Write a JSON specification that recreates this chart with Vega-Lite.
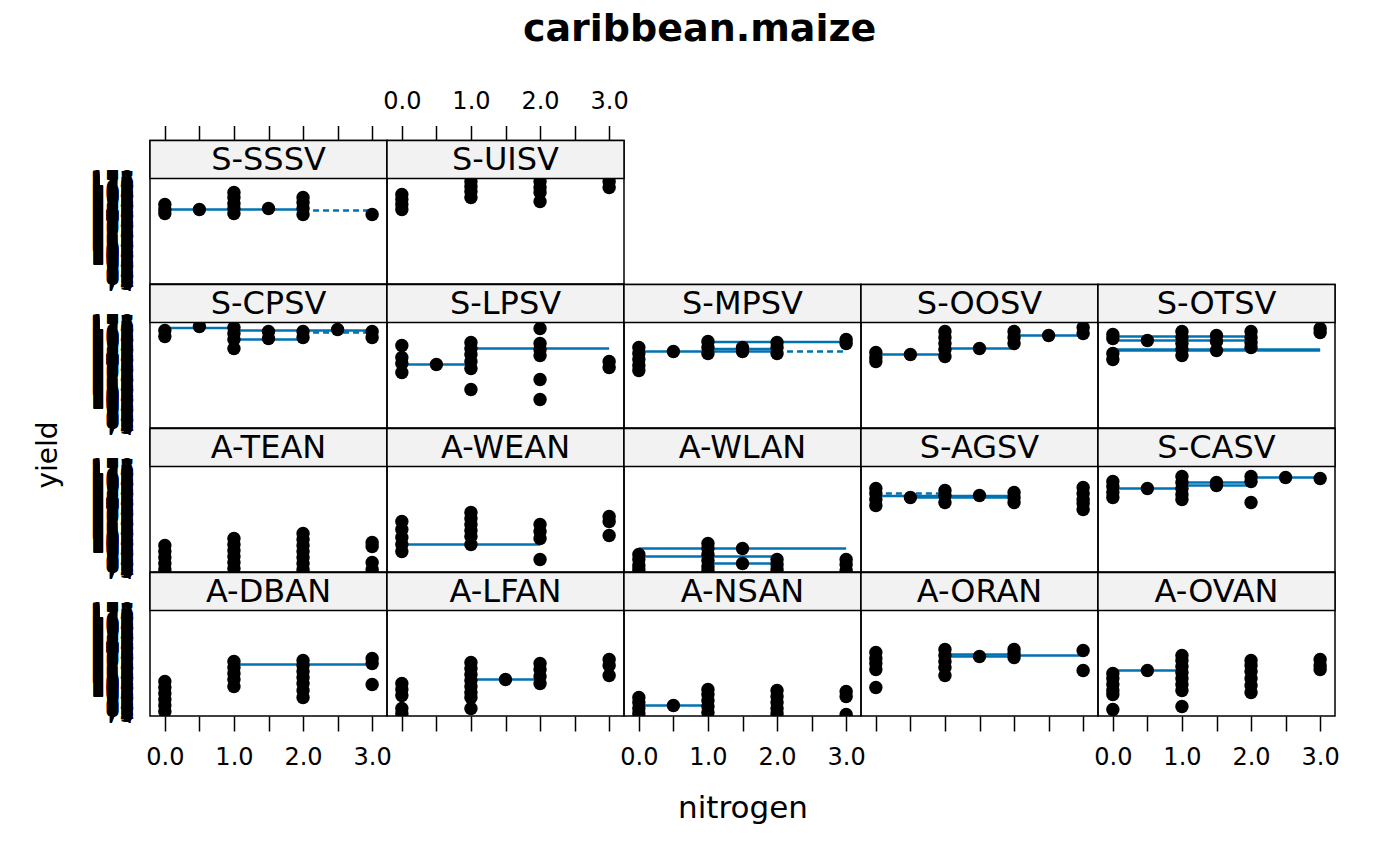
{
"$schema":"https://vega.github.io/schema/vega-lite/v6.json",
"padding":{"left":33,"top":10.5,"right":5,"bottom":5},
"title":{"text":"caribbean.maize","fontSize":38,"fontWeight":"bold","font":"DejaVu Sans","color":"black","anchor":"middle","frame":"bounds","dx":13,"offset":40},
"datasets":{
"strips":[{"site":"S-SSSV"},{"site":"S-UISV"},{"site":"S-CPSV"},{"site":"S-LPSV"},{"site":"S-MPSV"},{"site":"S-OOSV"},{"site":"S-OTSV"},{"site":"A-TEAN"},{"site":"A-WEAN"},{"site":"A-WLAN"},{"site":"S-AGSV"},{"site":"S-CASV"},{"site":"A-DBAN"},{"site":"A-LFAN"},{"site":"A-NSAN"},{"site":"A-ORAN"},{"site":"A-OVAN"}],
"pts":[
{"site":"S-SSSV","nitrogen":0,"yield":153},{"site":"S-SSSV","nitrogen":0,"yield":148},{"site":"S-SSSV","nitrogen":0,"yield":144},{"site":"S-SSSV","nitrogen":0.5,"yield":148},{"site":"S-SSSV","nitrogen":1,"yield":165},{"site":"S-SSSV","nitrogen":1,"yield":160},{"site":"S-SSSV","nitrogen":1,"yield":154},{"site":"S-SSSV","nitrogen":1,"yield":149},{"site":"S-SSSV","nitrogen":1,"yield":144},{"site":"S-SSSV","nitrogen":1.5,"yield":149},{"site":"S-SSSV","nitrogen":2,"yield":160},{"site":"S-SSSV","nitrogen":2,"yield":155},{"site":"S-SSSV","nitrogen":2,"yield":149},{"site":"S-SSSV","nitrogen":2,"yield":143},{"site":"S-SSSV","nitrogen":3,"yield":143},
{"site":"S-UISV","nitrogen":0,"yield":163},{"site":"S-UISV","nitrogen":0,"yield":158},{"site":"S-UISV","nitrogen":0,"yield":153},{"site":"S-UISV","nitrogen":0,"yield":148},{"site":"S-UISV","nitrogen":1,"yield":176},{"site":"S-UISV","nitrogen":1,"yield":171},{"site":"S-UISV","nitrogen":1,"yield":166},{"site":"S-UISV","nitrogen":1,"yield":160},{"site":"S-UISV","nitrogen":2,"yield":176},{"site":"S-UISV","nitrogen":2,"yield":170},{"site":"S-UISV","nitrogen":2,"yield":165},{"site":"S-UISV","nitrogen":2,"yield":156},{"site":"S-UISV","nitrogen":3,"yield":176},{"site":"S-UISV","nitrogen":3,"yield":170},
{"site":"S-CPSV","nitrogen":0,"yield":171},{"site":"S-CPSV","nitrogen":0,"yield":165},{"site":"S-CPSV","nitrogen":0.5,"yield":175},{"site":"S-CPSV","nitrogen":1,"yield":174},{"site":"S-CPSV","nitrogen":1,"yield":168},{"site":"S-CPSV","nitrogen":1,"yield":162},{"site":"S-CPSV","nitrogen":1,"yield":153},{"site":"S-CPSV","nitrogen":1.5,"yield":170},{"site":"S-CPSV","nitrogen":1.5,"yield":163},{"site":"S-CPSV","nitrogen":2,"yield":170},{"site":"S-CPSV","nitrogen":2,"yield":164},{"site":"S-CPSV","nitrogen":2.5,"yield":172},{"site":"S-CPSV","nitrogen":3,"yield":170},{"site":"S-CPSV","nitrogen":3,"yield":164},
{"site":"S-LPSV","nitrogen":0,"yield":156},{"site":"S-LPSV","nitrogen":0,"yield":144},{"site":"S-LPSV","nitrogen":0,"yield":138},{"site":"S-LPSV","nitrogen":0,"yield":129},{"site":"S-LPSV","nitrogen":0.5,"yield":137},{"site":"S-LPSV","nitrogen":1,"yield":159},{"site":"S-LPSV","nitrogen":1,"yield":153},{"site":"S-LPSV","nitrogen":1,"yield":147},{"site":"S-LPSV","nitrogen":1,"yield":140},{"site":"S-LPSV","nitrogen":1,"yield":133},{"site":"S-LPSV","nitrogen":1,"yield":112},{"site":"S-LPSV","nitrogen":2,"yield":173},{"site":"S-LPSV","nitrogen":2,"yield":158},{"site":"S-LPSV","nitrogen":2,"yield":152},{"site":"S-LPSV","nitrogen":2,"yield":146},{"site":"S-LPSV","nitrogen":2,"yield":122},{"site":"S-LPSV","nitrogen":2,"yield":102},{"site":"S-LPSV","nitrogen":3,"yield":140},{"site":"S-LPSV","nitrogen":3,"yield":134},
{"site":"S-MPSV","nitrogen":0,"yield":154},{"site":"S-MPSV","nitrogen":0,"yield":148},{"site":"S-MPSV","nitrogen":0,"yield":142},{"site":"S-MPSV","nitrogen":0,"yield":136},{"site":"S-MPSV","nitrogen":0,"yield":131},{"site":"S-MPSV","nitrogen":0.5,"yield":150},{"site":"S-MPSV","nitrogen":1,"yield":160},{"site":"S-MPSV","nitrogen":1,"yield":154},{"site":"S-MPSV","nitrogen":1,"yield":148},{"site":"S-MPSV","nitrogen":1.5,"yield":154},{"site":"S-MPSV","nitrogen":1.5,"yield":150},{"site":"S-MPSV","nitrogen":2,"yield":159},{"site":"S-MPSV","nitrogen":2,"yield":154},{"site":"S-MPSV","nitrogen":2,"yield":148},{"site":"S-MPSV","nitrogen":3,"yield":162},{"site":"S-MPSV","nitrogen":3,"yield":158},
{"site":"S-OOSV","nitrogen":0,"yield":149},{"site":"S-OOSV","nitrogen":0,"yield":144},{"site":"S-OOSV","nitrogen":0,"yield":140},{"site":"S-OOSV","nitrogen":0.5,"yield":147},{"site":"S-OOSV","nitrogen":1,"yield":170},{"site":"S-OOSV","nitrogen":1,"yield":164},{"site":"S-OOSV","nitrogen":1,"yield":158},{"site":"S-OOSV","nitrogen":1,"yield":152},{"site":"S-OOSV","nitrogen":1,"yield":145},{"site":"S-OOSV","nitrogen":1.5,"yield":153},{"site":"S-OOSV","nitrogen":2,"yield":170},{"site":"S-OOSV","nitrogen":2,"yield":164},{"site":"S-OOSV","nitrogen":2,"yield":158},{"site":"S-OOSV","nitrogen":2.5,"yield":166},{"site":"S-OOSV","nitrogen":3,"yield":174},{"site":"S-OOSV","nitrogen":3,"yield":168},
{"site":"S-OTSV","nitrogen":0,"yield":167},{"site":"S-OTSV","nitrogen":0,"yield":163},{"site":"S-OTSV","nitrogen":0,"yield":148},{"site":"S-OTSV","nitrogen":0,"yield":142},{"site":"S-OTSV","nitrogen":0.5,"yield":161},{"site":"S-OTSV","nitrogen":1,"yield":170},{"site":"S-OTSV","nitrogen":1,"yield":164},{"site":"S-OTSV","nitrogen":1,"yield":158},{"site":"S-OTSV","nitrogen":1,"yield":152},{"site":"S-OTSV","nitrogen":1,"yield":146},{"site":"S-OTSV","nitrogen":1.5,"yield":166},{"site":"S-OTSV","nitrogen":1.5,"yield":160},{"site":"S-OTSV","nitrogen":1.5,"yield":151},{"site":"S-OTSV","nitrogen":2,"yield":170},{"site":"S-OTSV","nitrogen":2,"yield":164},{"site":"S-OTSV","nitrogen":2,"yield":159},{"site":"S-OTSV","nitrogen":2,"yield":154},{"site":"S-OTSV","nitrogen":3,"yield":173},{"site":"S-OTSV","nitrogen":3,"yield":169},
{"site":"A-TEAN","nitrogen":0,"yield":100},{"site":"A-TEAN","nitrogen":0,"yield":94},{"site":"A-TEAN","nitrogen":0,"yield":88},{"site":"A-TEAN","nitrogen":0,"yield":82},{"site":"A-TEAN","nitrogen":0,"yield":76},{"site":"A-TEAN","nitrogen":1,"yield":107},{"site":"A-TEAN","nitrogen":1,"yield":101},{"site":"A-TEAN","nitrogen":1,"yield":95},{"site":"A-TEAN","nitrogen":1,"yield":89},{"site":"A-TEAN","nitrogen":1,"yield":83},{"site":"A-TEAN","nitrogen":1,"yield":77},{"site":"A-TEAN","nitrogen":2,"yield":112},{"site":"A-TEAN","nitrogen":2,"yield":106},{"site":"A-TEAN","nitrogen":2,"yield":100},{"site":"A-TEAN","nitrogen":2,"yield":94},{"site":"A-TEAN","nitrogen":2,"yield":88},{"site":"A-TEAN","nitrogen":2,"yield":82},{"site":"A-TEAN","nitrogen":2,"yield":76},{"site":"A-TEAN","nitrogen":3,"yield":103},{"site":"A-TEAN","nitrogen":3,"yield":99},{"site":"A-TEAN","nitrogen":3,"yield":83},{"site":"A-TEAN","nitrogen":3,"yield":76},
{"site":"A-WEAN","nitrogen":0,"yield":124},{"site":"A-WEAN","nitrogen":0,"yield":116},{"site":"A-WEAN","nitrogen":0,"yield":108},{"site":"A-WEAN","nitrogen":0,"yield":101},{"site":"A-WEAN","nitrogen":0,"yield":94},{"site":"A-WEAN","nitrogen":1,"yield":133},{"site":"A-WEAN","nitrogen":1,"yield":127},{"site":"A-WEAN","nitrogen":1,"yield":121},{"site":"A-WEAN","nitrogen":1,"yield":115},{"site":"A-WEAN","nitrogen":1,"yield":109},{"site":"A-WEAN","nitrogen":1,"yield":101},{"site":"A-WEAN","nitrogen":2,"yield":121},{"site":"A-WEAN","nitrogen":2,"yield":114},{"site":"A-WEAN","nitrogen":2,"yield":107},{"site":"A-WEAN","nitrogen":2,"yield":86},{"site":"A-WEAN","nitrogen":3,"yield":129},{"site":"A-WEAN","nitrogen":3,"yield":124},{"site":"A-WEAN","nitrogen":3,"yield":110},
{"site":"A-WLAN","nitrogen":0,"yield":91},{"site":"A-WLAN","nitrogen":0,"yield":86},{"site":"A-WLAN","nitrogen":0,"yield":80},{"site":"A-WLAN","nitrogen":0,"yield":76},{"site":"A-WLAN","nitrogen":1,"yield":102},{"site":"A-WLAN","nitrogen":1,"yield":97},{"site":"A-WLAN","nitrogen":1,"yield":91},{"site":"A-WLAN","nitrogen":1,"yield":85},{"site":"A-WLAN","nitrogen":1,"yield":79},{"site":"A-WLAN","nitrogen":1,"yield":75},{"site":"A-WLAN","nitrogen":1.5,"yield":97},{"site":"A-WLAN","nitrogen":1.5,"yield":82},{"site":"A-WLAN","nitrogen":2,"yield":86},{"site":"A-WLAN","nitrogen":2,"yield":81},{"site":"A-WLAN","nitrogen":2,"yield":76},{"site":"A-WLAN","nitrogen":3,"yield":86},{"site":"A-WLAN","nitrogen":3,"yield":81},{"site":"A-WLAN","nitrogen":3,"yield":75},
{"site":"S-AGSV","nitrogen":0,"yield":157},{"site":"S-AGSV","nitrogen":0,"yield":152},{"site":"S-AGSV","nitrogen":0,"yield":146},{"site":"S-AGSV","nitrogen":0,"yield":140},{"site":"S-AGSV","nitrogen":0.5,"yield":148},{"site":"S-AGSV","nitrogen":1,"yield":155},{"site":"S-AGSV","nitrogen":1,"yield":150},{"site":"S-AGSV","nitrogen":1,"yield":143},{"site":"S-AGSV","nitrogen":1.5,"yield":150},{"site":"S-AGSV","nitrogen":2,"yield":153},{"site":"S-AGSV","nitrogen":2,"yield":148},{"site":"S-AGSV","nitrogen":2,"yield":143},{"site":"S-AGSV","nitrogen":3,"yield":158},{"site":"S-AGSV","nitrogen":3,"yield":152},{"site":"S-AGSV","nitrogen":3,"yield":146},{"site":"S-AGSV","nitrogen":3,"yield":142},{"site":"S-AGSV","nitrogen":3,"yield":136},
{"site":"S-CASV","nitrogen":0,"yield":164},{"site":"S-CASV","nitrogen":0,"yield":159},{"site":"S-CASV","nitrogen":0,"yield":153},{"site":"S-CASV","nitrogen":0,"yield":148},{"site":"S-CASV","nitrogen":0.5,"yield":157},{"site":"S-CASV","nitrogen":1,"yield":169},{"site":"S-CASV","nitrogen":1,"yield":163},{"site":"S-CASV","nitrogen":1,"yield":157},{"site":"S-CASV","nitrogen":1,"yield":151},{"site":"S-CASV","nitrogen":1,"yield":146},{"site":"S-CASV","nitrogen":1.5,"yield":163},{"site":"S-CASV","nitrogen":1.5,"yield":160},{"site":"S-CASV","nitrogen":2,"yield":169},{"site":"S-CASV","nitrogen":2,"yield":164},{"site":"S-CASV","nitrogen":2,"yield":143},{"site":"S-CASV","nitrogen":2.5,"yield":168},{"site":"S-CASV","nitrogen":3,"yield":167},
{"site":"A-DBAN","nitrogen":0,"yield":108},{"site":"A-DBAN","nitrogen":0,"yield":102},{"site":"A-DBAN","nitrogen":0,"yield":96},{"site":"A-DBAN","nitrogen":0,"yield":90},{"site":"A-DBAN","nitrogen":0,"yield":84},{"site":"A-DBAN","nitrogen":0,"yield":78},{"site":"A-DBAN","nitrogen":1,"yield":128},{"site":"A-DBAN","nitrogen":1,"yield":122},{"site":"A-DBAN","nitrogen":1,"yield":116},{"site":"A-DBAN","nitrogen":1,"yield":110},{"site":"A-DBAN","nitrogen":1,"yield":103},{"site":"A-DBAN","nitrogen":2,"yield":129},{"site":"A-DBAN","nitrogen":2,"yield":124},{"site":"A-DBAN","nitrogen":2,"yield":118},{"site":"A-DBAN","nitrogen":2,"yield":112},{"site":"A-DBAN","nitrogen":2,"yield":106},{"site":"A-DBAN","nitrogen":2,"yield":99},{"site":"A-DBAN","nitrogen":2,"yield":92},{"site":"A-DBAN","nitrogen":3,"yield":131},{"site":"A-DBAN","nitrogen":3,"yield":126},{"site":"A-DBAN","nitrogen":3,"yield":105},
{"site":"A-LFAN","nitrogen":0,"yield":106},{"site":"A-LFAN","nitrogen":0,"yield":100},{"site":"A-LFAN","nitrogen":0,"yield":94},{"site":"A-LFAN","nitrogen":0,"yield":81},{"site":"A-LFAN","nitrogen":0,"yield":76},{"site":"A-LFAN","nitrogen":1,"yield":127},{"site":"A-LFAN","nitrogen":1,"yield":121},{"site":"A-LFAN","nitrogen":1,"yield":115},{"site":"A-LFAN","nitrogen":1,"yield":109},{"site":"A-LFAN","nitrogen":1,"yield":103},{"site":"A-LFAN","nitrogen":1,"yield":97},{"site":"A-LFAN","nitrogen":1,"yield":92},{"site":"A-LFAN","nitrogen":1,"yield":81},{"site":"A-LFAN","nitrogen":1.5,"yield":110},{"site":"A-LFAN","nitrogen":2,"yield":126},{"site":"A-LFAN","nitrogen":2,"yield":120},{"site":"A-LFAN","nitrogen":2,"yield":113},{"site":"A-LFAN","nitrogen":2,"yield":106},{"site":"A-LFAN","nitrogen":3,"yield":130},{"site":"A-LFAN","nitrogen":3,"yield":124},{"site":"A-LFAN","nitrogen":3,"yield":114},
{"site":"A-NSAN","nitrogen":0,"yield":92},{"site":"A-NSAN","nitrogen":0,"yield":87},{"site":"A-NSAN","nitrogen":0,"yield":81},{"site":"A-NSAN","nitrogen":0,"yield":76},{"site":"A-NSAN","nitrogen":0.5,"yield":84},{"site":"A-NSAN","nitrogen":1,"yield":100},{"site":"A-NSAN","nitrogen":1,"yield":95},{"site":"A-NSAN","nitrogen":1,"yield":89},{"site":"A-NSAN","nitrogen":1,"yield":83},{"site":"A-NSAN","nitrogen":1,"yield":77},{"site":"A-NSAN","nitrogen":2,"yield":99},{"site":"A-NSAN","nitrogen":2,"yield":93},{"site":"A-NSAN","nitrogen":2,"yield":87},{"site":"A-NSAN","nitrogen":2,"yield":81},{"site":"A-NSAN","nitrogen":2,"yield":76},{"site":"A-NSAN","nitrogen":3,"yield":98},{"site":"A-NSAN","nitrogen":3,"yield":93},{"site":"A-NSAN","nitrogen":3,"yield":75},
{"site":"A-ORAN","nitrogen":0,"yield":137},{"site":"A-ORAN","nitrogen":0,"yield":131},{"site":"A-ORAN","nitrogen":0,"yield":126},{"site":"A-ORAN","nitrogen":0,"yield":120},{"site":"A-ORAN","nitrogen":0,"yield":102},{"site":"A-ORAN","nitrogen":1,"yield":140},{"site":"A-ORAN","nitrogen":1,"yield":134},{"site":"A-ORAN","nitrogen":1,"yield":128},{"site":"A-ORAN","nitrogen":1,"yield":122},{"site":"A-ORAN","nitrogen":1,"yield":114},{"site":"A-ORAN","nitrogen":1.5,"yield":133},{"site":"A-ORAN","nitrogen":2,"yield":140},{"site":"A-ORAN","nitrogen":2,"yield":136},{"site":"A-ORAN","nitrogen":2,"yield":132},{"site":"A-ORAN","nitrogen":3,"yield":139},{"site":"A-ORAN","nitrogen":3,"yield":119},
{"site":"A-OVAN","nitrogen":0,"yield":116},{"site":"A-OVAN","nitrogen":0,"yield":111},{"site":"A-OVAN","nitrogen":0,"yield":105},{"site":"A-OVAN","nitrogen":0,"yield":99},{"site":"A-OVAN","nitrogen":0,"yield":95},{"site":"A-OVAN","nitrogen":0,"yield":80},{"site":"A-OVAN","nitrogen":0.5,"yield":119},{"site":"A-OVAN","nitrogen":1,"yield":134},{"site":"A-OVAN","nitrogen":1,"yield":129},{"site":"A-OVAN","nitrogen":1,"yield":123},{"site":"A-OVAN","nitrogen":1,"yield":117},{"site":"A-OVAN","nitrogen":1,"yield":111},{"site":"A-OVAN","nitrogen":1,"yield":105},{"site":"A-OVAN","nitrogen":1,"yield":99},{"site":"A-OVAN","nitrogen":1,"yield":83},{"site":"A-OVAN","nitrogen":2,"yield":129},{"site":"A-OVAN","nitrogen":2,"yield":124},{"site":"A-OVAN","nitrogen":2,"yield":118},{"site":"A-OVAN","nitrogen":2,"yield":111},{"site":"A-OVAN","nitrogen":2,"yield":104},{"site":"A-OVAN","nitrogen":2,"yield":97},{"site":"A-OVAN","nitrogen":3,"yield":130},{"site":"A-OVAN","nitrogen":3,"yield":124},{"site":"A-OVAN","nitrogen":3,"yield":120}
],
"segs":[
{"site":"S-SSSV","nitrogen":0,"nitrogen2":2,"yield":148,"style":"solid"},{"site":"S-SSSV","nitrogen":2,"nitrogen2":3,"yield":147,"style":"dashed"},
{"site":"S-CPSV","nitrogen":0,"nitrogen2":1,"yield":173.5,"style":"solid"},{"site":"S-CPSV","nitrogen":1,"nitrogen2":3,"yield":171,"style":"solid"},{"site":"S-CPSV","nitrogen":2,"nitrogen2":3,"yield":169,"style":"dashed"},{"site":"S-CPSV","nitrogen":1,"nitrogen2":2,"yield":162,"style":"solid"},
{"site":"S-LPSV","nitrogen":0,"nitrogen2":1,"yield":137,"style":"solid"},{"site":"S-LPSV","nitrogen":1,"nitrogen2":3,"yield":153,"style":"solid"},
{"site":"S-MPSV","nitrogen":0,"nitrogen2":2,"yield":150,"style":"solid"},{"site":"S-MPSV","nitrogen":1,"nitrogen2":3,"yield":159.5,"style":"solid"},{"site":"S-MPSV","nitrogen":1,"nitrogen2":2,"yield":152.5,"style":"solid"},{"site":"S-MPSV","nitrogen":2,"nitrogen2":3,"yield":150,"style":"dashed"},
{"site":"S-OOSV","nitrogen":0,"nitrogen2":1,"yield":147,"style":"solid"},{"site":"S-OOSV","nitrogen":1,"nitrogen2":2,"yield":153,"style":"solid"},{"site":"S-OOSV","nitrogen":2,"nitrogen2":3,"yield":166,"style":"solid"},
{"site":"S-OTSV","nitrogen":0,"nitrogen2":2,"yield":165,"style":"solid"},{"site":"S-OTSV","nitrogen":0,"nitrogen2":2,"yield":161,"style":"solid"},{"site":"S-OTSV","nitrogen":0,"nitrogen2":3,"yield":152,"style":"solid"},{"site":"S-OTSV","nitrogen":0,"nitrogen2":3,"yield":151,"style":"solid"},
{"site":"A-WEAN","nitrogen":0,"nitrogen2":2,"yield":101,"style":"solid"},
{"site":"A-WLAN","nitrogen":0,"nitrogen2":3,"yield":97,"style":"solid"},{"site":"A-WLAN","nitrogen":0,"nitrogen2":2,"yield":89,"style":"solid"},{"site":"A-WLAN","nitrogen":1,"nitrogen2":2,"yield":82,"style":"solid"},
{"site":"S-AGSV","nitrogen":0,"nitrogen2":2,"yield":149.5,"style":"solid"},{"site":"S-AGSV","nitrogen":0.5,"nitrogen2":2,"yield":148,"style":"solid"},{"site":"S-AGSV","nitrogen":0,"nitrogen2":1,"yield":152,"style":"dashed"},
{"site":"S-CASV","nitrogen":0,"nitrogen2":1,"yield":157,"style":"solid"},{"site":"S-CASV","nitrogen":1,"nitrogen2":2,"yield":163,"style":"solid"},{"site":"S-CASV","nitrogen":1,"nitrogen2":2,"yield":160,"style":"solid"},{"site":"S-CASV","nitrogen":2,"nitrogen2":3,"yield":168,"style":"solid"},
{"site":"A-DBAN","nitrogen":1,"nitrogen2":3,"yield":125,"style":"solid"},
{"site":"A-LFAN","nitrogen":1,"nitrogen2":2,"yield":110,"style":"solid"},
{"site":"A-NSAN","nitrogen":0,"nitrogen2":1,"yield":84,"style":"solid"},
{"site":"A-ORAN","nitrogen":1,"nitrogen2":2,"yield":133,"style":"solid"},{"site":"A-ORAN","nitrogen":1,"nitrogen2":2,"yield":135,"style":"solid"},{"site":"A-ORAN","nitrogen":2,"nitrogen2":3,"yield":134,"style":"solid"},
{"site":"A-OVAN","nitrogen":0,"nitrogen2":1,"yield":119,"style":"solid"}
]
},
"columns":5,
"spacing":0,
"bounds":"flush",
"concat":[
{"width":237,"height":143.5,"resolve":{"axis":{"x":"independent","y":"independent"}},"layer":[
  {"data":{"name":"segs"},"transform":[{"filter":"datum.site==='S-SSSV'"}],"mark":{"type":"rule","color":"#0072B2","strokeWidth":2.5},"encoding":{"x":{"field":"nitrogen","type":"quantitative","scale":{"domain":[-0.215,3.215],"nice":false,"zero":false},"axis":null},"x2":{"field":"nitrogen2"},"y":{"field":"yield","type":"quantitative","scale":{"domain":[73.5,217],"nice":false,"zero":false},"axis":null},"strokeDash":{"field":"style","type":"nominal","scale":{"domain":["solid","dashed"],"range":[[1,0],[6,4]]},"legend":null}}},
  {"data":{"name":"pts"},"transform":[{"filter":"datum.site==='S-SSSV'"}],"mark":{"type":"circle","size":180,"color":"black","opacity":1,"clip":true},"encoding":{"x":{"field":"nitrogen","type":"quantitative","scale":{"domain":[-0.215,3.215],"nice":false,"zero":false},"axis":{"orient":"top","values":[0,0.5,1,1.5,2,2.5,3],"labels":false,"tickSize":15,"title":null}},"y":{"field":"yield","type":"quantitative","scale":{"domain":[73.5,217],"nice":false,"zero":false},"axis":{"tickCount":144,"format":"d","labelExpr":"datum.value <= 178 ? datum.label : ''","labelOverlap":false,"ticks":false,"tickSize":0,"labelPadding":16,"labelFlush":false,"labelBound":false,"title":null}}}},
  {"data":{"name":"strips"},"transform":[{"filter":"datum.site==='S-SSSV'"}],"mark":{"type":"rect","fill":"#f2f2f2","stroke":"black","strokeWidth":1.5},"encoding":{"x":{"datum":-0.215,"type":"quantitative","scale":{"domain":[-0.215,3.215],"nice":false,"zero":false},"axis":null},"x2":{"datum":3.215},"y":{"datum":179,"type":"quantitative","scale":{"domain":[73.5,217],"nice":false,"zero":false},"axis":null},"y2":{"datum":217}}},
  {"data":{"name":"strips"},"transform":[{"filter":"datum.site==='S-SSSV'"}],"mark":{"type":"text","fontSize":32,"color":"black","baseline":"middle"},"encoding":{"x":{"datum":1.5,"type":"quantitative","scale":{"domain":[-0.215,3.215],"nice":false,"zero":false},"axis":null},"y":{"datum":198,"type":"quantitative","scale":{"domain":[73.5,217],"nice":false,"zero":false},"axis":null},"text":{"field":"site"}}}
 ]},
{"width":237,"height":143.5,"resolve":{"axis":{"x":"independent","y":"independent"}},"layer":[
  {"data":{"name":"pts"},"transform":[{"filter":"datum.site==='S-UISV'"}],"mark":{"type":"circle","size":180,"color":"black","opacity":1,"clip":true},"encoding":{"x":{"field":"nitrogen","type":"quantitative","scale":{"domain":[-0.215,3.215],"nice":false,"zero":false},"axis":{"orient":"top","values":[0,0.5,1,1.5,2,2.5,3],"labelExpr":"datum.value % 1 === 0 ? format(datum.value, '.1f') : ''","labelOverlap":false,"labelFlush":false,"tickSize":15,"labelPadding":12,"labelFontSize":24,"title":null}},"y":{"field":"yield","type":"quantitative","scale":{"domain":[73.5,217],"nice":false,"zero":false},"axis":null}}},
  {"data":{"name":"strips"},"transform":[{"filter":"datum.site==='S-UISV'"}],"mark":{"type":"rect","fill":"#f2f2f2","stroke":"black","strokeWidth":1.5},"encoding":{"x":{"datum":-0.215,"type":"quantitative","scale":{"domain":[-0.215,3.215],"nice":false,"zero":false},"axis":null},"x2":{"datum":3.215},"y":{"datum":179,"type":"quantitative","scale":{"domain":[73.5,217],"nice":false,"zero":false},"axis":null},"y2":{"datum":217}}},
  {"data":{"name":"strips"},"transform":[{"filter":"datum.site==='S-UISV'"}],"mark":{"type":"text","fontSize":32,"color":"black","baseline":"middle"},"encoding":{"x":{"datum":1.5,"type":"quantitative","scale":{"domain":[-0.215,3.215],"nice":false,"zero":false},"axis":null},"y":{"datum":198,"type":"quantitative","scale":{"domain":[73.5,217],"nice":false,"zero":false},"axis":null},"text":{"field":"site"}}}
 ]},
{"width":237,"height":143.5,"view":{"stroke":null},"data":{"values":[]},"mark":"point"},
{"width":237,"height":143.5,"view":{"stroke":null},"data":{"values":[]},"mark":"point"},
{"width":237,"height":143.5,"view":{"stroke":null},"data":{"values":[]},"mark":"point"},
{"width":237,"height":143.5,"resolve":{"axis":{"x":"independent","y":"independent"}},"layer":[
  {"data":{"name":"segs"},"transform":[{"filter":"datum.site==='S-CPSV'"}],"mark":{"type":"rule","color":"#0072B2","strokeWidth":2.5},"encoding":{"x":{"field":"nitrogen","type":"quantitative","scale":{"domain":[-0.215,3.215],"nice":false,"zero":false},"axis":null},"x2":{"field":"nitrogen2"},"y":{"field":"yield","type":"quantitative","scale":{"domain":[73.5,217],"nice":false,"zero":false},"axis":null},"strokeDash":{"field":"style","type":"nominal","scale":{"domain":["solid","dashed"],"range":[[1,0],[6,4]]},"legend":null}}},
  {"data":{"name":"pts"},"transform":[{"filter":"datum.site==='S-CPSV'"}],"mark":{"type":"circle","size":180,"color":"black","opacity":1,"clip":true},"encoding":{"x":{"field":"nitrogen","type":"quantitative","scale":{"domain":[-0.215,3.215],"nice":false,"zero":false},"axis":null},"y":{"field":"yield","type":"quantitative","scale":{"domain":[73.5,217],"nice":false,"zero":false},"axis":{"tickCount":144,"format":"d","labelExpr":"datum.value <= 178 ? datum.label : ''","labelOverlap":false,"ticks":false,"tickSize":0,"labelPadding":16,"labelFlush":false,"labelBound":false,"title":null}}}},
  {"data":{"name":"strips"},"transform":[{"filter":"datum.site==='S-CPSV'"}],"mark":{"type":"rect","fill":"#f2f2f2","stroke":"black","strokeWidth":1.5},"encoding":{"x":{"datum":-0.215,"type":"quantitative","scale":{"domain":[-0.215,3.215],"nice":false,"zero":false},"axis":null},"x2":{"datum":3.215},"y":{"datum":179,"type":"quantitative","scale":{"domain":[73.5,217],"nice":false,"zero":false},"axis":null},"y2":{"datum":217}}},
  {"data":{"name":"strips"},"transform":[{"filter":"datum.site==='S-CPSV'"}],"mark":{"type":"text","fontSize":32,"color":"black","baseline":"middle"},"encoding":{"x":{"datum":1.5,"type":"quantitative","scale":{"domain":[-0.215,3.215],"nice":false,"zero":false},"axis":null},"y":{"datum":198,"type":"quantitative","scale":{"domain":[73.5,217],"nice":false,"zero":false},"axis":null},"text":{"field":"site"}}}
 ]},
{"width":237,"height":143.5,"resolve":{"axis":{"x":"independent","y":"independent"}},"layer":[
  {"data":{"name":"segs"},"transform":[{"filter":"datum.site==='S-LPSV'"}],"mark":{"type":"rule","color":"#0072B2","strokeWidth":2.5},"encoding":{"x":{"field":"nitrogen","type":"quantitative","scale":{"domain":[-0.215,3.215],"nice":false,"zero":false},"axis":null},"x2":{"field":"nitrogen2"},"y":{"field":"yield","type":"quantitative","scale":{"domain":[73.5,217],"nice":false,"zero":false},"axis":null},"strokeDash":{"field":"style","type":"nominal","scale":{"domain":["solid","dashed"],"range":[[1,0],[6,4]]},"legend":null}}},
  {"data":{"name":"pts"},"transform":[{"filter":"datum.site==='S-LPSV'"}],"mark":{"type":"circle","size":180,"color":"black","opacity":1,"clip":true},"encoding":{"x":{"field":"nitrogen","type":"quantitative","scale":{"domain":[-0.215,3.215],"nice":false,"zero":false},"axis":null},"y":{"field":"yield","type":"quantitative","scale":{"domain":[73.5,217],"nice":false,"zero":false},"axis":null}}},
  {"data":{"name":"strips"},"transform":[{"filter":"datum.site==='S-LPSV'"}],"mark":{"type":"rect","fill":"#f2f2f2","stroke":"black","strokeWidth":1.5},"encoding":{"x":{"datum":-0.215,"type":"quantitative","scale":{"domain":[-0.215,3.215],"nice":false,"zero":false},"axis":null},"x2":{"datum":3.215},"y":{"datum":179,"type":"quantitative","scale":{"domain":[73.5,217],"nice":false,"zero":false},"axis":null},"y2":{"datum":217}}},
  {"data":{"name":"strips"},"transform":[{"filter":"datum.site==='S-LPSV'"}],"mark":{"type":"text","fontSize":32,"color":"black","baseline":"middle"},"encoding":{"x":{"datum":1.5,"type":"quantitative","scale":{"domain":[-0.215,3.215],"nice":false,"zero":false},"axis":null},"y":{"datum":198,"type":"quantitative","scale":{"domain":[73.5,217],"nice":false,"zero":false},"axis":null},"text":{"field":"site"}}}
 ]},
{"width":237,"height":143.5,"resolve":{"axis":{"x":"independent","y":"independent"}},"layer":[
  {"data":{"name":"segs"},"transform":[{"filter":"datum.site==='S-MPSV'"}],"mark":{"type":"rule","color":"#0072B2","strokeWidth":2.5},"encoding":{"x":{"field":"nitrogen","type":"quantitative","scale":{"domain":[-0.215,3.215],"nice":false,"zero":false},"axis":null},"x2":{"field":"nitrogen2"},"y":{"field":"yield","type":"quantitative","scale":{"domain":[73.5,217],"nice":false,"zero":false},"axis":null},"strokeDash":{"field":"style","type":"nominal","scale":{"domain":["solid","dashed"],"range":[[1,0],[6,4]]},"legend":null}}},
  {"data":{"name":"pts"},"transform":[{"filter":"datum.site==='S-MPSV'"}],"mark":{"type":"circle","size":180,"color":"black","opacity":1,"clip":true},"encoding":{"x":{"field":"nitrogen","type":"quantitative","scale":{"domain":[-0.215,3.215],"nice":false,"zero":false},"axis":null},"y":{"field":"yield","type":"quantitative","scale":{"domain":[73.5,217],"nice":false,"zero":false},"axis":null}}},
  {"data":{"name":"strips"},"transform":[{"filter":"datum.site==='S-MPSV'"}],"mark":{"type":"rect","fill":"#f2f2f2","stroke":"black","strokeWidth":1.5},"encoding":{"x":{"datum":-0.215,"type":"quantitative","scale":{"domain":[-0.215,3.215],"nice":false,"zero":false},"axis":null},"x2":{"datum":3.215},"y":{"datum":179,"type":"quantitative","scale":{"domain":[73.5,217],"nice":false,"zero":false},"axis":null},"y2":{"datum":217}}},
  {"data":{"name":"strips"},"transform":[{"filter":"datum.site==='S-MPSV'"}],"mark":{"type":"text","fontSize":32,"color":"black","baseline":"middle"},"encoding":{"x":{"datum":1.5,"type":"quantitative","scale":{"domain":[-0.215,3.215],"nice":false,"zero":false},"axis":null},"y":{"datum":198,"type":"quantitative","scale":{"domain":[73.5,217],"nice":false,"zero":false},"axis":null},"text":{"field":"site"}}}
 ]},
{"width":237,"height":143.5,"resolve":{"axis":{"x":"independent","y":"independent"}},"layer":[
  {"data":{"name":"segs"},"transform":[{"filter":"datum.site==='S-OOSV'"}],"mark":{"type":"rule","color":"#0072B2","strokeWidth":2.5},"encoding":{"x":{"field":"nitrogen","type":"quantitative","scale":{"domain":[-0.215,3.215],"nice":false,"zero":false},"axis":null},"x2":{"field":"nitrogen2"},"y":{"field":"yield","type":"quantitative","scale":{"domain":[73.5,217],"nice":false,"zero":false},"axis":null},"strokeDash":{"field":"style","type":"nominal","scale":{"domain":["solid","dashed"],"range":[[1,0],[6,4]]},"legend":null}}},
  {"data":{"name":"pts"},"transform":[{"filter":"datum.site==='S-OOSV'"}],"mark":{"type":"circle","size":180,"color":"black","opacity":1,"clip":true},"encoding":{"x":{"field":"nitrogen","type":"quantitative","scale":{"domain":[-0.215,3.215],"nice":false,"zero":false},"axis":null},"y":{"field":"yield","type":"quantitative","scale":{"domain":[73.5,217],"nice":false,"zero":false},"axis":null}}},
  {"data":{"name":"strips"},"transform":[{"filter":"datum.site==='S-OOSV'"}],"mark":{"type":"rect","fill":"#f2f2f2","stroke":"black","strokeWidth":1.5},"encoding":{"x":{"datum":-0.215,"type":"quantitative","scale":{"domain":[-0.215,3.215],"nice":false,"zero":false},"axis":null},"x2":{"datum":3.215},"y":{"datum":179,"type":"quantitative","scale":{"domain":[73.5,217],"nice":false,"zero":false},"axis":null},"y2":{"datum":217}}},
  {"data":{"name":"strips"},"transform":[{"filter":"datum.site==='S-OOSV'"}],"mark":{"type":"text","fontSize":32,"color":"black","baseline":"middle"},"encoding":{"x":{"datum":1.5,"type":"quantitative","scale":{"domain":[-0.215,3.215],"nice":false,"zero":false},"axis":null},"y":{"datum":198,"type":"quantitative","scale":{"domain":[73.5,217],"nice":false,"zero":false},"axis":null},"text":{"field":"site"}}}
 ]},
{"width":237,"height":143.5,"resolve":{"axis":{"x":"independent","y":"independent"}},"layer":[
  {"data":{"name":"segs"},"transform":[{"filter":"datum.site==='S-OTSV'"}],"mark":{"type":"rule","color":"#0072B2","strokeWidth":2.5},"encoding":{"x":{"field":"nitrogen","type":"quantitative","scale":{"domain":[-0.215,3.215],"nice":false,"zero":false},"axis":null},"x2":{"field":"nitrogen2"},"y":{"field":"yield","type":"quantitative","scale":{"domain":[73.5,217],"nice":false,"zero":false},"axis":null},"strokeDash":{"field":"style","type":"nominal","scale":{"domain":["solid","dashed"],"range":[[1,0],[6,4]]},"legend":null}}},
  {"data":{"name":"pts"},"transform":[{"filter":"datum.site==='S-OTSV'"}],"mark":{"type":"circle","size":180,"color":"black","opacity":1,"clip":true},"encoding":{"x":{"field":"nitrogen","type":"quantitative","scale":{"domain":[-0.215,3.215],"nice":false,"zero":false},"axis":null},"y":{"field":"yield","type":"quantitative","scale":{"domain":[73.5,217],"nice":false,"zero":false},"axis":null}}},
  {"data":{"name":"strips"},"transform":[{"filter":"datum.site==='S-OTSV'"}],"mark":{"type":"rect","fill":"#f2f2f2","stroke":"black","strokeWidth":1.5},"encoding":{"x":{"datum":-0.215,"type":"quantitative","scale":{"domain":[-0.215,3.215],"nice":false,"zero":false},"axis":null},"x2":{"datum":3.215},"y":{"datum":179,"type":"quantitative","scale":{"domain":[73.5,217],"nice":false,"zero":false},"axis":null},"y2":{"datum":217}}},
  {"data":{"name":"strips"},"transform":[{"filter":"datum.site==='S-OTSV'"}],"mark":{"type":"text","fontSize":32,"color":"black","baseline":"middle"},"encoding":{"x":{"datum":1.5,"type":"quantitative","scale":{"domain":[-0.215,3.215],"nice":false,"zero":false},"axis":null},"y":{"datum":198,"type":"quantitative","scale":{"domain":[73.5,217],"nice":false,"zero":false},"axis":null},"text":{"field":"site"}}}
 ]},
{"width":237,"height":143.5,"resolve":{"axis":{"x":"independent","y":"independent"}},"layer":[
  {"data":{"name":"pts"},"transform":[{"filter":"datum.site==='A-TEAN'"}],"mark":{"type":"circle","size":180,"color":"black","opacity":1,"clip":true},"encoding":{"x":{"field":"nitrogen","type":"quantitative","scale":{"domain":[-0.215,3.215],"nice":false,"zero":false},"axis":null},"y":{"field":"yield","type":"quantitative","scale":{"domain":[73.5,217],"nice":false,"zero":false},"axis":{"tickCount":144,"format":"d","labelExpr":"datum.value <= 178 ? datum.label : ''","labelOverlap":false,"ticks":false,"tickSize":0,"labelPadding":16,"labelFlush":false,"labelBound":false,"title":"yield","titleFontSize":28,"titleX":-102,"titleY":26,"titleAngle":270,"titleAlign":"center","titleBaseline":"middle"}}}},
  {"data":{"name":"strips"},"transform":[{"filter":"datum.site==='A-TEAN'"}],"mark":{"type":"rect","fill":"#f2f2f2","stroke":"black","strokeWidth":1.5},"encoding":{"x":{"datum":-0.215,"type":"quantitative","scale":{"domain":[-0.215,3.215],"nice":false,"zero":false},"axis":null},"x2":{"datum":3.215},"y":{"datum":179,"type":"quantitative","scale":{"domain":[73.5,217],"nice":false,"zero":false},"axis":null},"y2":{"datum":217}}},
  {"data":{"name":"strips"},"transform":[{"filter":"datum.site==='A-TEAN'"}],"mark":{"type":"text","fontSize":32,"color":"black","baseline":"middle"},"encoding":{"x":{"datum":1.5,"type":"quantitative","scale":{"domain":[-0.215,3.215],"nice":false,"zero":false},"axis":null},"y":{"datum":198,"type":"quantitative","scale":{"domain":[73.5,217],"nice":false,"zero":false},"axis":null},"text":{"field":"site"}}}
 ]},
{"width":237,"height":143.5,"resolve":{"axis":{"x":"independent","y":"independent"}},"layer":[
  {"data":{"name":"segs"},"transform":[{"filter":"datum.site==='A-WEAN'"}],"mark":{"type":"rule","color":"#0072B2","strokeWidth":2.5},"encoding":{"x":{"field":"nitrogen","type":"quantitative","scale":{"domain":[-0.215,3.215],"nice":false,"zero":false},"axis":null},"x2":{"field":"nitrogen2"},"y":{"field":"yield","type":"quantitative","scale":{"domain":[73.5,217],"nice":false,"zero":false},"axis":null},"strokeDash":{"field":"style","type":"nominal","scale":{"domain":["solid","dashed"],"range":[[1,0],[6,4]]},"legend":null}}},
  {"data":{"name":"pts"},"transform":[{"filter":"datum.site==='A-WEAN'"}],"mark":{"type":"circle","size":180,"color":"black","opacity":1,"clip":true},"encoding":{"x":{"field":"nitrogen","type":"quantitative","scale":{"domain":[-0.215,3.215],"nice":false,"zero":false},"axis":null},"y":{"field":"yield","type":"quantitative","scale":{"domain":[73.5,217],"nice":false,"zero":false},"axis":null}}},
  {"data":{"name":"strips"},"transform":[{"filter":"datum.site==='A-WEAN'"}],"mark":{"type":"rect","fill":"#f2f2f2","stroke":"black","strokeWidth":1.5},"encoding":{"x":{"datum":-0.215,"type":"quantitative","scale":{"domain":[-0.215,3.215],"nice":false,"zero":false},"axis":null},"x2":{"datum":3.215},"y":{"datum":179,"type":"quantitative","scale":{"domain":[73.5,217],"nice":false,"zero":false},"axis":null},"y2":{"datum":217}}},
  {"data":{"name":"strips"},"transform":[{"filter":"datum.site==='A-WEAN'"}],"mark":{"type":"text","fontSize":32,"color":"black","baseline":"middle"},"encoding":{"x":{"datum":1.5,"type":"quantitative","scale":{"domain":[-0.215,3.215],"nice":false,"zero":false},"axis":null},"y":{"datum":198,"type":"quantitative","scale":{"domain":[73.5,217],"nice":false,"zero":false},"axis":null},"text":{"field":"site"}}}
 ]},
{"width":237,"height":143.5,"resolve":{"axis":{"x":"independent","y":"independent"}},"layer":[
  {"data":{"name":"segs"},"transform":[{"filter":"datum.site==='A-WLAN'"}],"mark":{"type":"rule","color":"#0072B2","strokeWidth":2.5},"encoding":{"x":{"field":"nitrogen","type":"quantitative","scale":{"domain":[-0.215,3.215],"nice":false,"zero":false},"axis":null},"x2":{"field":"nitrogen2"},"y":{"field":"yield","type":"quantitative","scale":{"domain":[73.5,217],"nice":false,"zero":false},"axis":null},"strokeDash":{"field":"style","type":"nominal","scale":{"domain":["solid","dashed"],"range":[[1,0],[6,4]]},"legend":null}}},
  {"data":{"name":"pts"},"transform":[{"filter":"datum.site==='A-WLAN'"}],"mark":{"type":"circle","size":180,"color":"black","opacity":1,"clip":true},"encoding":{"x":{"field":"nitrogen","type":"quantitative","scale":{"domain":[-0.215,3.215],"nice":false,"zero":false},"axis":null},"y":{"field":"yield","type":"quantitative","scale":{"domain":[73.5,217],"nice":false,"zero":false},"axis":null}}},
  {"data":{"name":"strips"},"transform":[{"filter":"datum.site==='A-WLAN'"}],"mark":{"type":"rect","fill":"#f2f2f2","stroke":"black","strokeWidth":1.5},"encoding":{"x":{"datum":-0.215,"type":"quantitative","scale":{"domain":[-0.215,3.215],"nice":false,"zero":false},"axis":null},"x2":{"datum":3.215},"y":{"datum":179,"type":"quantitative","scale":{"domain":[73.5,217],"nice":false,"zero":false},"axis":null},"y2":{"datum":217}}},
  {"data":{"name":"strips"},"transform":[{"filter":"datum.site==='A-WLAN'"}],"mark":{"type":"text","fontSize":32,"color":"black","baseline":"middle"},"encoding":{"x":{"datum":1.5,"type":"quantitative","scale":{"domain":[-0.215,3.215],"nice":false,"zero":false},"axis":null},"y":{"datum":198,"type":"quantitative","scale":{"domain":[73.5,217],"nice":false,"zero":false},"axis":null},"text":{"field":"site"}}}
 ]},
{"width":237,"height":143.5,"resolve":{"axis":{"x":"independent","y":"independent"}},"layer":[
  {"data":{"name":"segs"},"transform":[{"filter":"datum.site==='S-AGSV'"}],"mark":{"type":"rule","color":"#0072B2","strokeWidth":2.5},"encoding":{"x":{"field":"nitrogen","type":"quantitative","scale":{"domain":[-0.215,3.215],"nice":false,"zero":false},"axis":null},"x2":{"field":"nitrogen2"},"y":{"field":"yield","type":"quantitative","scale":{"domain":[73.5,217],"nice":false,"zero":false},"axis":null},"strokeDash":{"field":"style","type":"nominal","scale":{"domain":["solid","dashed"],"range":[[1,0],[6,4]]},"legend":null}}},
  {"data":{"name":"pts"},"transform":[{"filter":"datum.site==='S-AGSV'"}],"mark":{"type":"circle","size":180,"color":"black","opacity":1,"clip":true},"encoding":{"x":{"field":"nitrogen","type":"quantitative","scale":{"domain":[-0.215,3.215],"nice":false,"zero":false},"axis":null},"y":{"field":"yield","type":"quantitative","scale":{"domain":[73.5,217],"nice":false,"zero":false},"axis":null}}},
  {"data":{"name":"strips"},"transform":[{"filter":"datum.site==='S-AGSV'"}],"mark":{"type":"rect","fill":"#f2f2f2","stroke":"black","strokeWidth":1.5},"encoding":{"x":{"datum":-0.215,"type":"quantitative","scale":{"domain":[-0.215,3.215],"nice":false,"zero":false},"axis":null},"x2":{"datum":3.215},"y":{"datum":179,"type":"quantitative","scale":{"domain":[73.5,217],"nice":false,"zero":false},"axis":null},"y2":{"datum":217}}},
  {"data":{"name":"strips"},"transform":[{"filter":"datum.site==='S-AGSV'"}],"mark":{"type":"text","fontSize":32,"color":"black","baseline":"middle"},"encoding":{"x":{"datum":1.5,"type":"quantitative","scale":{"domain":[-0.215,3.215],"nice":false,"zero":false},"axis":null},"y":{"datum":198,"type":"quantitative","scale":{"domain":[73.5,217],"nice":false,"zero":false},"axis":null},"text":{"field":"site"}}}
 ]},
{"width":237,"height":143.5,"resolve":{"axis":{"x":"independent","y":"independent"}},"layer":[
  {"data":{"name":"segs"},"transform":[{"filter":"datum.site==='S-CASV'"}],"mark":{"type":"rule","color":"#0072B2","strokeWidth":2.5},"encoding":{"x":{"field":"nitrogen","type":"quantitative","scale":{"domain":[-0.215,3.215],"nice":false,"zero":false},"axis":null},"x2":{"field":"nitrogen2"},"y":{"field":"yield","type":"quantitative","scale":{"domain":[73.5,217],"nice":false,"zero":false},"axis":null},"strokeDash":{"field":"style","type":"nominal","scale":{"domain":["solid","dashed"],"range":[[1,0],[6,4]]},"legend":null}}},
  {"data":{"name":"pts"},"transform":[{"filter":"datum.site==='S-CASV'"}],"mark":{"type":"circle","size":180,"color":"black","opacity":1,"clip":true},"encoding":{"x":{"field":"nitrogen","type":"quantitative","scale":{"domain":[-0.215,3.215],"nice":false,"zero":false},"axis":null},"y":{"field":"yield","type":"quantitative","scale":{"domain":[73.5,217],"nice":false,"zero":false},"axis":null}}},
  {"data":{"name":"strips"},"transform":[{"filter":"datum.site==='S-CASV'"}],"mark":{"type":"rect","fill":"#f2f2f2","stroke":"black","strokeWidth":1.5},"encoding":{"x":{"datum":-0.215,"type":"quantitative","scale":{"domain":[-0.215,3.215],"nice":false,"zero":false},"axis":null},"x2":{"datum":3.215},"y":{"datum":179,"type":"quantitative","scale":{"domain":[73.5,217],"nice":false,"zero":false},"axis":null},"y2":{"datum":217}}},
  {"data":{"name":"strips"},"transform":[{"filter":"datum.site==='S-CASV'"}],"mark":{"type":"text","fontSize":32,"color":"black","baseline":"middle"},"encoding":{"x":{"datum":1.5,"type":"quantitative","scale":{"domain":[-0.215,3.215],"nice":false,"zero":false},"axis":null},"y":{"datum":198,"type":"quantitative","scale":{"domain":[73.5,217],"nice":false,"zero":false},"axis":null},"text":{"field":"site"}}}
 ]},
{"width":237,"height":143.5,"resolve":{"axis":{"x":"independent","y":"independent"}},"layer":[
  {"data":{"name":"segs"},"transform":[{"filter":"datum.site==='A-DBAN'"}],"mark":{"type":"rule","color":"#0072B2","strokeWidth":2.5},"encoding":{"x":{"field":"nitrogen","type":"quantitative","scale":{"domain":[-0.215,3.215],"nice":false,"zero":false},"axis":null},"x2":{"field":"nitrogen2"},"y":{"field":"yield","type":"quantitative","scale":{"domain":[73.5,217],"nice":false,"zero":false},"axis":null},"strokeDash":{"field":"style","type":"nominal","scale":{"domain":["solid","dashed"],"range":[[1,0],[6,4]]},"legend":null}}},
  {"data":{"name":"pts"},"transform":[{"filter":"datum.site==='A-DBAN'"}],"mark":{"type":"circle","size":180,"color":"black","opacity":1,"clip":true},"encoding":{"x":{"field":"nitrogen","type":"quantitative","scale":{"domain":[-0.215,3.215],"nice":false,"zero":false},"axis":{"orient":"bottom","values":[0,0.5,1,1.5,2,2.5,3],"labelExpr":"datum.value % 1 === 0 ? format(datum.value, '.1f') : ''","labelOverlap":false,"labelFlush":false,"tickSize":15,"labelPadding":14,"labelFontSize":24,"title":null}},"y":{"field":"yield","type":"quantitative","scale":{"domain":[73.5,217],"nice":false,"zero":false},"axis":{"tickCount":144,"format":"d","labelExpr":"datum.value <= 178 ? datum.label : ''","labelOverlap":false,"ticks":false,"tickSize":0,"labelPadding":16,"labelFlush":false,"labelBound":false,"title":null}}}},
  {"data":{"name":"strips"},"transform":[{"filter":"datum.site==='A-DBAN'"}],"mark":{"type":"rect","fill":"#f2f2f2","stroke":"black","strokeWidth":1.5},"encoding":{"x":{"datum":-0.215,"type":"quantitative","scale":{"domain":[-0.215,3.215],"nice":false,"zero":false},"axis":null},"x2":{"datum":3.215},"y":{"datum":179,"type":"quantitative","scale":{"domain":[73.5,217],"nice":false,"zero":false},"axis":null},"y2":{"datum":217}}},
  {"data":{"name":"strips"},"transform":[{"filter":"datum.site==='A-DBAN'"}],"mark":{"type":"text","fontSize":32,"color":"black","baseline":"middle"},"encoding":{"x":{"datum":1.5,"type":"quantitative","scale":{"domain":[-0.215,3.215],"nice":false,"zero":false},"axis":null},"y":{"datum":198,"type":"quantitative","scale":{"domain":[73.5,217],"nice":false,"zero":false},"axis":null},"text":{"field":"site"}}}
 ]},
{"width":237,"height":143.5,"resolve":{"axis":{"x":"independent","y":"independent"}},"layer":[
  {"data":{"name":"segs"},"transform":[{"filter":"datum.site==='A-LFAN'"}],"mark":{"type":"rule","color":"#0072B2","strokeWidth":2.5},"encoding":{"x":{"field":"nitrogen","type":"quantitative","scale":{"domain":[-0.215,3.215],"nice":false,"zero":false},"axis":null},"x2":{"field":"nitrogen2"},"y":{"field":"yield","type":"quantitative","scale":{"domain":[73.5,217],"nice":false,"zero":false},"axis":null},"strokeDash":{"field":"style","type":"nominal","scale":{"domain":["solid","dashed"],"range":[[1,0],[6,4]]},"legend":null}}},
  {"data":{"name":"pts"},"transform":[{"filter":"datum.site==='A-LFAN'"}],"mark":{"type":"circle","size":180,"color":"black","opacity":1,"clip":true},"encoding":{"x":{"field":"nitrogen","type":"quantitative","scale":{"domain":[-0.215,3.215],"nice":false,"zero":false},"axis":{"orient":"bottom","values":[0,0.5,1,1.5,2,2.5,3],"labels":false,"tickSize":15,"title":null}},"y":{"field":"yield","type":"quantitative","scale":{"domain":[73.5,217],"nice":false,"zero":false},"axis":null}}},
  {"data":{"name":"strips"},"transform":[{"filter":"datum.site==='A-LFAN'"}],"mark":{"type":"rect","fill":"#f2f2f2","stroke":"black","strokeWidth":1.5},"encoding":{"x":{"datum":-0.215,"type":"quantitative","scale":{"domain":[-0.215,3.215],"nice":false,"zero":false},"axis":null},"x2":{"datum":3.215},"y":{"datum":179,"type":"quantitative","scale":{"domain":[73.5,217],"nice":false,"zero":false},"axis":null},"y2":{"datum":217}}},
  {"data":{"name":"strips"},"transform":[{"filter":"datum.site==='A-LFAN'"}],"mark":{"type":"text","fontSize":32,"color":"black","baseline":"middle"},"encoding":{"x":{"datum":1.5,"type":"quantitative","scale":{"domain":[-0.215,3.215],"nice":false,"zero":false},"axis":null},"y":{"datum":198,"type":"quantitative","scale":{"domain":[73.5,217],"nice":false,"zero":false},"axis":null},"text":{"field":"site"}}}
 ]},
{"width":237,"height":143.5,"resolve":{"axis":{"x":"independent","y":"independent"}},"layer":[
  {"data":{"name":"segs"},"transform":[{"filter":"datum.site==='A-NSAN'"}],"mark":{"type":"rule","color":"#0072B2","strokeWidth":2.5},"encoding":{"x":{"field":"nitrogen","type":"quantitative","scale":{"domain":[-0.215,3.215],"nice":false,"zero":false},"axis":null},"x2":{"field":"nitrogen2"},"y":{"field":"yield","type":"quantitative","scale":{"domain":[73.5,217],"nice":false,"zero":false},"axis":null},"strokeDash":{"field":"style","type":"nominal","scale":{"domain":["solid","dashed"],"range":[[1,0],[6,4]]},"legend":null}}},
  {"data":{"name":"pts"},"transform":[{"filter":"datum.site==='A-NSAN'"}],"mark":{"type":"circle","size":180,"color":"black","opacity":1,"clip":true},"encoding":{"x":{"field":"nitrogen","type":"quantitative","scale":{"domain":[-0.215,3.215],"nice":false,"zero":false},"axis":{"orient":"bottom","values":[0,0.5,1,1.5,2,2.5,3],"labelExpr":"datum.value % 1 === 0 ? format(datum.value, '.1f') : ''","labelOverlap":false,"labelFlush":false,"tickSize":15,"labelPadding":14,"labelFontSize":24,"title":"nitrogen","titlePadding":24,"titleFontSize":31}},"y":{"field":"yield","type":"quantitative","scale":{"domain":[73.5,217],"nice":false,"zero":false},"axis":null}}},
  {"data":{"name":"strips"},"transform":[{"filter":"datum.site==='A-NSAN'"}],"mark":{"type":"rect","fill":"#f2f2f2","stroke":"black","strokeWidth":1.5},"encoding":{"x":{"datum":-0.215,"type":"quantitative","scale":{"domain":[-0.215,3.215],"nice":false,"zero":false},"axis":null},"x2":{"datum":3.215},"y":{"datum":179,"type":"quantitative","scale":{"domain":[73.5,217],"nice":false,"zero":false},"axis":null},"y2":{"datum":217}}},
  {"data":{"name":"strips"},"transform":[{"filter":"datum.site==='A-NSAN'"}],"mark":{"type":"text","fontSize":32,"color":"black","baseline":"middle"},"encoding":{"x":{"datum":1.5,"type":"quantitative","scale":{"domain":[-0.215,3.215],"nice":false,"zero":false},"axis":null},"y":{"datum":198,"type":"quantitative","scale":{"domain":[73.5,217],"nice":false,"zero":false},"axis":null},"text":{"field":"site"}}}
 ]},
{"width":237,"height":143.5,"resolve":{"axis":{"x":"independent","y":"independent"}},"layer":[
  {"data":{"name":"segs"},"transform":[{"filter":"datum.site==='A-ORAN'"}],"mark":{"type":"rule","color":"#0072B2","strokeWidth":2.5},"encoding":{"x":{"field":"nitrogen","type":"quantitative","scale":{"domain":[-0.215,3.215],"nice":false,"zero":false},"axis":null},"x2":{"field":"nitrogen2"},"y":{"field":"yield","type":"quantitative","scale":{"domain":[73.5,217],"nice":false,"zero":false},"axis":null},"strokeDash":{"field":"style","type":"nominal","scale":{"domain":["solid","dashed"],"range":[[1,0],[6,4]]},"legend":null}}},
  {"data":{"name":"pts"},"transform":[{"filter":"datum.site==='A-ORAN'"}],"mark":{"type":"circle","size":180,"color":"black","opacity":1,"clip":true},"encoding":{"x":{"field":"nitrogen","type":"quantitative","scale":{"domain":[-0.215,3.215],"nice":false,"zero":false},"axis":{"orient":"bottom","values":[0,0.5,1,1.5,2,2.5,3],"labels":false,"tickSize":15,"title":null}},"y":{"field":"yield","type":"quantitative","scale":{"domain":[73.5,217],"nice":false,"zero":false},"axis":null}}},
  {"data":{"name":"strips"},"transform":[{"filter":"datum.site==='A-ORAN'"}],"mark":{"type":"rect","fill":"#f2f2f2","stroke":"black","strokeWidth":1.5},"encoding":{"x":{"datum":-0.215,"type":"quantitative","scale":{"domain":[-0.215,3.215],"nice":false,"zero":false},"axis":null},"x2":{"datum":3.215},"y":{"datum":179,"type":"quantitative","scale":{"domain":[73.5,217],"nice":false,"zero":false},"axis":null},"y2":{"datum":217}}},
  {"data":{"name":"strips"},"transform":[{"filter":"datum.site==='A-ORAN'"}],"mark":{"type":"text","fontSize":32,"color":"black","baseline":"middle"},"encoding":{"x":{"datum":1.5,"type":"quantitative","scale":{"domain":[-0.215,3.215],"nice":false,"zero":false},"axis":null},"y":{"datum":198,"type":"quantitative","scale":{"domain":[73.5,217],"nice":false,"zero":false},"axis":null},"text":{"field":"site"}}}
 ]},
{"width":237,"height":143.5,"resolve":{"axis":{"x":"independent","y":"independent"}},"layer":[
  {"data":{"name":"segs"},"transform":[{"filter":"datum.site==='A-OVAN'"}],"mark":{"type":"rule","color":"#0072B2","strokeWidth":2.5},"encoding":{"x":{"field":"nitrogen","type":"quantitative","scale":{"domain":[-0.215,3.215],"nice":false,"zero":false},"axis":null},"x2":{"field":"nitrogen2"},"y":{"field":"yield","type":"quantitative","scale":{"domain":[73.5,217],"nice":false,"zero":false},"axis":null},"strokeDash":{"field":"style","type":"nominal","scale":{"domain":["solid","dashed"],"range":[[1,0],[6,4]]},"legend":null}}},
  {"data":{"name":"pts"},"transform":[{"filter":"datum.site==='A-OVAN'"}],"mark":{"type":"circle","size":180,"color":"black","opacity":1,"clip":true},"encoding":{"x":{"field":"nitrogen","type":"quantitative","scale":{"domain":[-0.215,3.215],"nice":false,"zero":false},"axis":{"orient":"bottom","values":[0,0.5,1,1.5,2,2.5,3],"labelExpr":"datum.value % 1 === 0 ? format(datum.value, '.1f') : ''","labelOverlap":false,"labelFlush":false,"tickSize":15,"labelPadding":14,"labelFontSize":24,"title":null}},"y":{"field":"yield","type":"quantitative","scale":{"domain":[73.5,217],"nice":false,"zero":false},"axis":null}}},
  {"data":{"name":"strips"},"transform":[{"filter":"datum.site==='A-OVAN'"}],"mark":{"type":"rect","fill":"#f2f2f2","stroke":"black","strokeWidth":1.5},"encoding":{"x":{"datum":-0.215,"type":"quantitative","scale":{"domain":[-0.215,3.215],"nice":false,"zero":false},"axis":null},"x2":{"datum":3.215},"y":{"datum":179,"type":"quantitative","scale":{"domain":[73.5,217],"nice":false,"zero":false},"axis":null},"y2":{"datum":217}}},
  {"data":{"name":"strips"},"transform":[{"filter":"datum.site==='A-OVAN'"}],"mark":{"type":"text","fontSize":32,"color":"black","baseline":"middle"},"encoding":{"x":{"datum":1.5,"type":"quantitative","scale":{"domain":[-0.215,3.215],"nice":false,"zero":false},"axis":null},"y":{"datum":198,"type":"quantitative","scale":{"domain":[73.5,217],"nice":false,"zero":false},"axis":null},"text":{"field":"site"}}}
 ]}
],
"config":{
 "font":"DejaVu Sans",
 "view":{"stroke":"black","strokeWidth":1.5},
 "axis":{"grid":false,"domain":false,"labelFont":"DejaVu Sans","labelFontSize":23,"labelColor":"black","tickColor":"black","tickWidth":1.5,"titleFont":"DejaVu Sans","titleFontSize":30,"titleFontWeight":"normal","titleColor":"black"},
 "text":{"font":"DejaVu Sans"}
}
}
